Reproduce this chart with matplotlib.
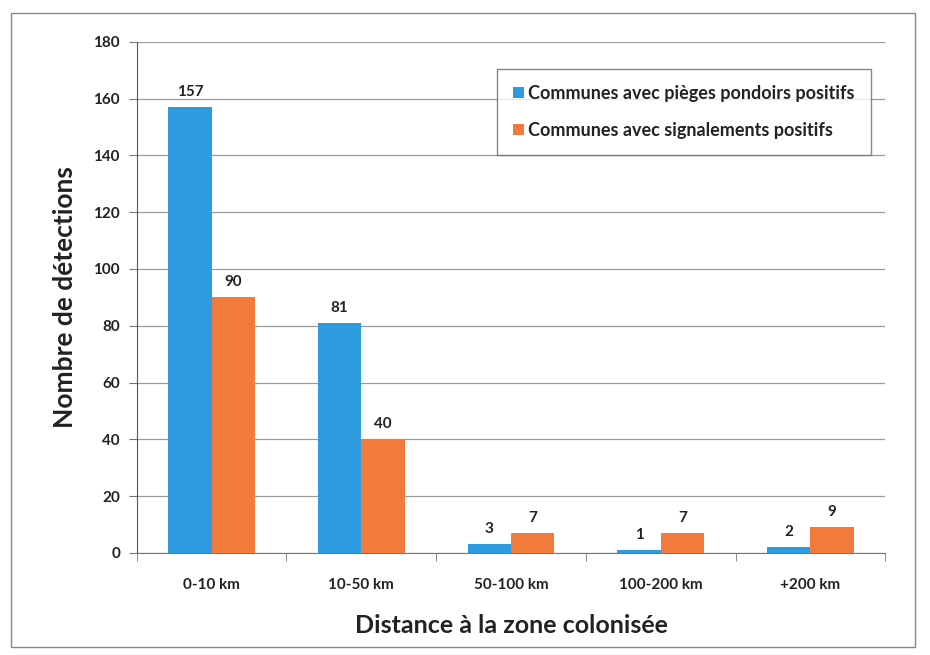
import numpy as np
import matplotlib.pyplot as plt
from matplotlib.patches import Rectangle

# data
categories = ["0-10 km", "10-50 km", "50-100 km", "100-200 km", "+200 km"]
pieges = [157, 81, 3, 1, 2]
signalements = [90, 40, 7, 7, 9]
series_labels = ["Communes avec pièges pondoirs positifs",
                 "Communes avec signalements positifs"]
yticks = [0, 20, 40, 60, 80, 100, 120, 140, 160, 180]

blue = "#2F9BDF"
orange = "#F27B3B"
text_col = "#222222"

plt.rcParams['font.family'] = ['Lato', 'DejaVu Sans']

fig = plt.figure(figsize=(9.3, 6.55), dpi=100)
ax = fig.add_axes([0.147, 0.156, 0.805, 0.780])

x = np.arange(len(categories))
w = 0.29
b1 = ax.bar(x - w / 2, pieges, w, color=blue, label=series_labels[0], zorder=3)
b2 = ax.bar(x + w / 2, signalements, w, color=orange, label=series_labels[1], zorder=3)

for bars in (b1, b2):
    for rect in bars:
        h = rect.get_height()
        ax.annotate(str(int(h)), (rect.get_x() + rect.get_width() / 2, h),
                    xytext=(0, 6), textcoords="offset points",
                    ha="center", va="bottom", fontsize=11, fontweight="bold",
                    color=text_col)

ax.set_xlim(-0.5, len(categories) - 0.5)
ax.set_ylim(0, 180)
ax.set_yticks(yticks)
ax.yaxis.grid(True, color="#9a9a9a", linewidth=0.9, zorder=0)
ax.set_axisbelow(True)

ax.set_xticks(x)
ax.set_xticklabels(categories)
ax.set_xticks(np.arange(-0.5, len(categories)), minor=True)
ax.tick_params(axis="x", which="major", length=0, pad=18)
ax.tick_params(axis="x", which="minor", length=6, color="#777777")
ax.tick_params(axis="y", length=6, color="#777777", pad=6)
for lab in ax.get_xticklabels() + ax.get_yticklabels():
    lab.set_fontsize(11)
    lab.set_fontweight("bold")
    lab.set_color(text_col)

for s in ("top", "right"):
    ax.spines[s].set_visible(False)
ax.spines["left"].set_color("#555555")
ax.spines["bottom"].set_color("#777777")

ax.set_ylabel("Nombre de détections", fontsize=19, fontweight="bold",
              color=text_col, labelpad=12)
ax.set_xlabel("Distance à la zone colonisée", fontsize=18, fontweight="bold",
              color=text_col, labelpad=16)

leg = ax.legend(loc="upper right", bbox_to_anchor=(0.993, 0.965), fontsize=13,
                frameon=True, fancybox=False, handlelength=0.6, handleheight=0.6,
                handletextpad=0.25, labelspacing=1.1, borderpad=0.9)
leg.get_frame().set_edgecolor("#666666")
leg.get_frame().set_linewidth(1.0)
for t in leg.get_texts():
    t.set_fontweight("bold")
    t.set_color(text_col)

# thin frame around the whole chart
fig.patches.append(Rectangle((0.012, 0.012), 0.972, 0.968, transform=fig.transFigure,
                             fill=False, edgecolor="#888888", linewidth=1.0))

fig.savefig("out.png", dpi=100)
